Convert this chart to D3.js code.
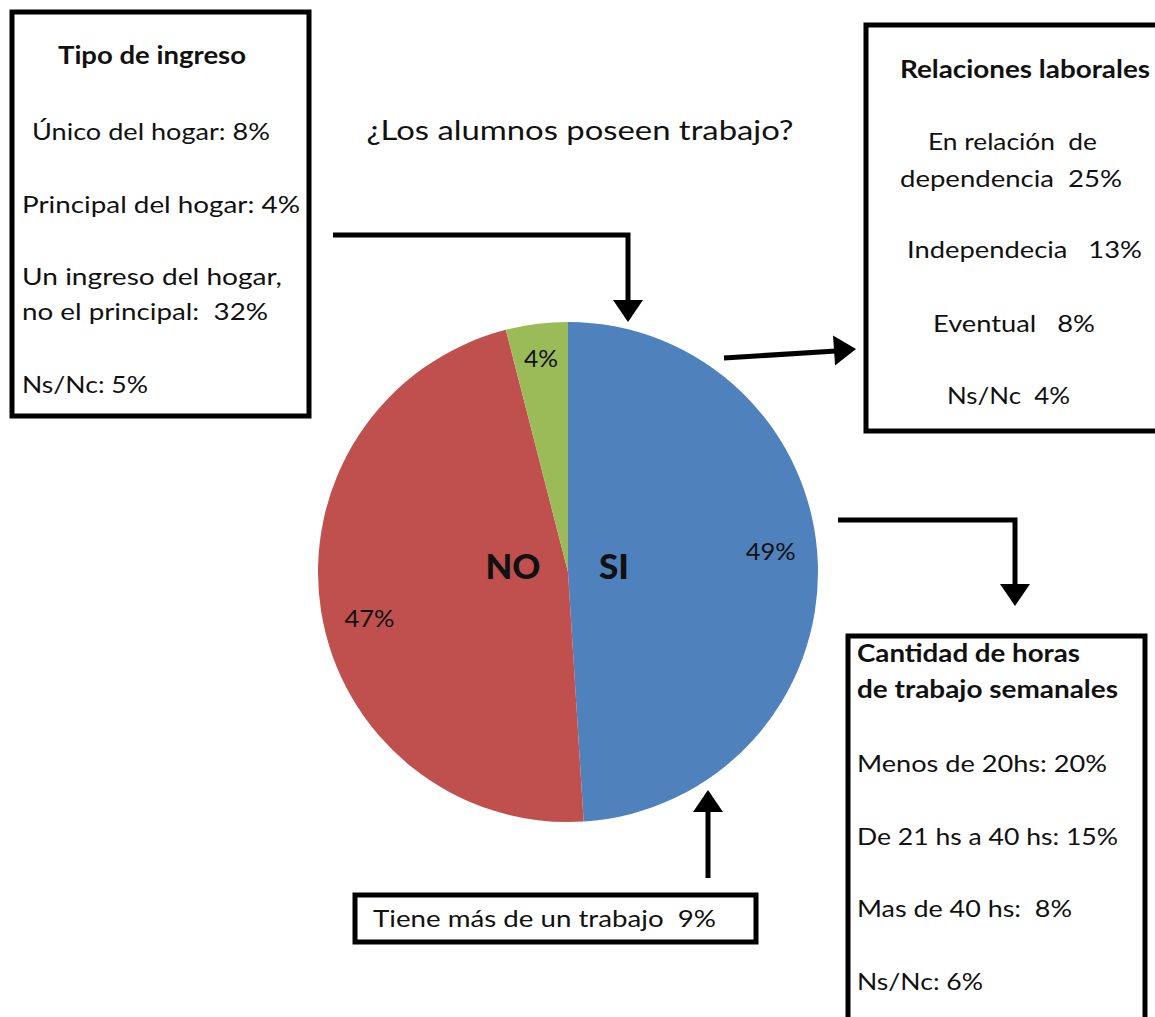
<!DOCTYPE html>
<html><head><meta charset="utf-8">
<script src="https://cdn.jsdelivr.net/npm/d3@7"></script>
<style>
html,body{margin:0;padding:0;background:#fff;}
svg{display:block;}
text{font-family:Lato,"Open Sans",sans-serif;fill:#111;}
</style></head>
<body><svg id="c" width="1155" height="1017"></svg>
<script>
const sliceNames = ["SI", "NO", ""];
const sliceValues = [49, 47, 4];
const sliceColors = ["#4F81BD", "#C0504D", "#9BBB59"];
const chartTitle = "¿Los alumnos poseen trabajo?";

const ingresoTitle = ["Tipo de ingreso"];
const ingresoLines = [["Único del hogar: 8%"], ["Principal del hogar: 4%"], ["Un ingreso del hogar,", "no el principal:  32%"], ["Ns/Nc: 5%"]];

const relacionesTitle = ["Relaciones laborales"];
const relacionesLines = [["En relación  de"], ["dependencia  25%"], ["Independecia   13%"], ["Eventual   8%"], ["Ns/Nc  4%"]];

const horasTitle = ["Cantidad de horas", "de trabajo semanales"];
const horasLines = [["Menos de 20hs: 20%"], ["De 21 hs a 40 hs: 15%"], ["Mas de 40 hs:  8%"], ["Ns/Nc: 6%"]];

const multiTrabajo = "Tiene más de un trabajo  9%";

const svg = d3.select("#c");
const cx = 568, cy = 572, R = 250;

function fit(sel, w) {
  if (w) sel.attr("textLength", w).attr("lengthAdjust", "spacingAndGlyphs");
  return sel;
}

// pie
const pie = d3.pie().sort(null).value(d => d)(sliceValues);
const arc = d3.arc().innerRadius(0).outerRadius(R);
const g = svg.append("g").attr("transform", `translate(${cx},${cy})`);
g.selectAll("path.s").data(pie).join("path").attr("class", "s")
  .attr("d", arc).attr("fill", (d, i) => sliceColors[i]);
function labelPos(d) {
  const small = d.value < 10;
  const a = (d.startAngle + d.endAngle) / 2 - (small ? 0 : 0.07);
  const r = R * (small ? 0.86 : 0.815);
  return [r * Math.sin(a), -r * Math.cos(a)];
}
g.selectAll("text.p").data(pie).join("text").attr("class", "p")
  .attr("x", d => labelPos(d)[0]).attr("y", d => labelPos(d)[1])
  .attr("text-anchor", "middle").attr("dy", "0.36em")
  .style("font-size", "24px").text(d => d.value + "%")
  .each(function (d) { fit(d3.select(this), d.value < 10 ? 34 : 50); });
// NO / SI
g.selectAll("text.n").data(pie.filter(d => sliceNames[d.index])).join("text").attr("class", "n")
  .attr("x", d => (d.endAngle + d.startAngle) / 2 < Math.PI ? 46 : -55)
  .attr("y", -5).attr("text-anchor", "middle").attr("dy", "0.36em")
  .style("font-size", "34px").style("font-weight", "900")
  .text(d => sliceNames[d.index])
  .each(function (d) { fit(d3.select(this), d.index === 0 ? 30 : 55); });

fit(svg.append("text").attr("x", 580).attr("y", 140).attr("text-anchor", "middle")
  .style("font-size", "27px").text(chartTitle), 427);

// boxes
function box(x, y, w, h) {
  svg.append("rect").attr("x", x).attr("y", y).attr("width", w).attr("height", h)
    .attr("fill", "none").attr("stroke", "#000").attr("stroke-width", 5);
}
box(12, 12, 297, 404);
box(866, 25, 305, 406);
box(848, 636, 297, 400);
box(355, 895, 401, 47);

function lines(arr, xs, ys, anchor, size, weight, lh, widths) {
  let k = 0;
  arr.forEach((grp, i) => {
    grp.forEach((t, j) => {
      const x = Array.isArray(xs) ? xs[i] : xs;
      const s = svg.append("text").attr("x", x).attr("y", ys[i] + j * lh)
        .attr("text-anchor", anchor).style("font-size", size + "px")
        .style("font-weight", weight).style("white-space", "pre").text(t);
      fit(s, widths[k++]);
    });
  });
}
lines([ingresoTitle], 152, [64], "middle", 24, 700, 0, [188]);
lines(ingresoLines.slice(0, 1), 32, [140], "start", 24, 400, 35, [238]);
lines(ingresoLines.slice(1), 22, [213, 285, 393], "start", 24, 400, 35, [278, 260, 246, 126]);

lines([relacionesTitle], 1025, [78], "middle", 24, 700, 0, [250]);
lines(relacionesLines, [928, 900, 907, 933, 947], [150, 187, 258, 332, 404], "start", 24, 400, 0, [169, 222, 235, 162, 123]);

lines([horasTitle], 857, [662], "start", 24, 700, 36, [223, 261]);
lines(horasLines, 857, [772, 845, 917, 990], "start", 24, 400, 0, [250, 261, 215, 126]);

fit(svg.append("text").attr("x", 373).attr("y", 927).style("font-size", "24px")
  .style("white-space", "pre").text(multiTrabajo), 343);

// arrows
const line = d3.line();
function arrow(pts, tip, dir) {
  svg.append("path").attr("d", line(pts)).attr("fill", "none")
    .attr("stroke", "#000").attr("stroke-width", 5);
  const [tx, ty] = tip, L = 22, W = 15;
  const [dx, dy] = dir;
  const bx = tx - dx * L, by = ty - dy * L;
  svg.append("path").attr("d", line([[tx, ty], [bx - dy * W, by + dx * W], [bx + dy * W, by - dx * W]]) + "Z")
    .attr("fill", "#000");
}
arrow([[333, 235], [628, 235], [628, 302]], [628, 322], [0, 1]);
function norm(a, b) { const l = Math.hypot(a, b); return [a / l, b / l]; }
arrow([[724, 358], [836, 351]], [856, 349], norm(132, -9));
arrow([[838, 520], [1015, 520], [1015, 586]], [1015, 606], [0, 1]);
arrow([[708, 878], [708, 810]], [708, 790], [0, -1]);
</script></body></html>
